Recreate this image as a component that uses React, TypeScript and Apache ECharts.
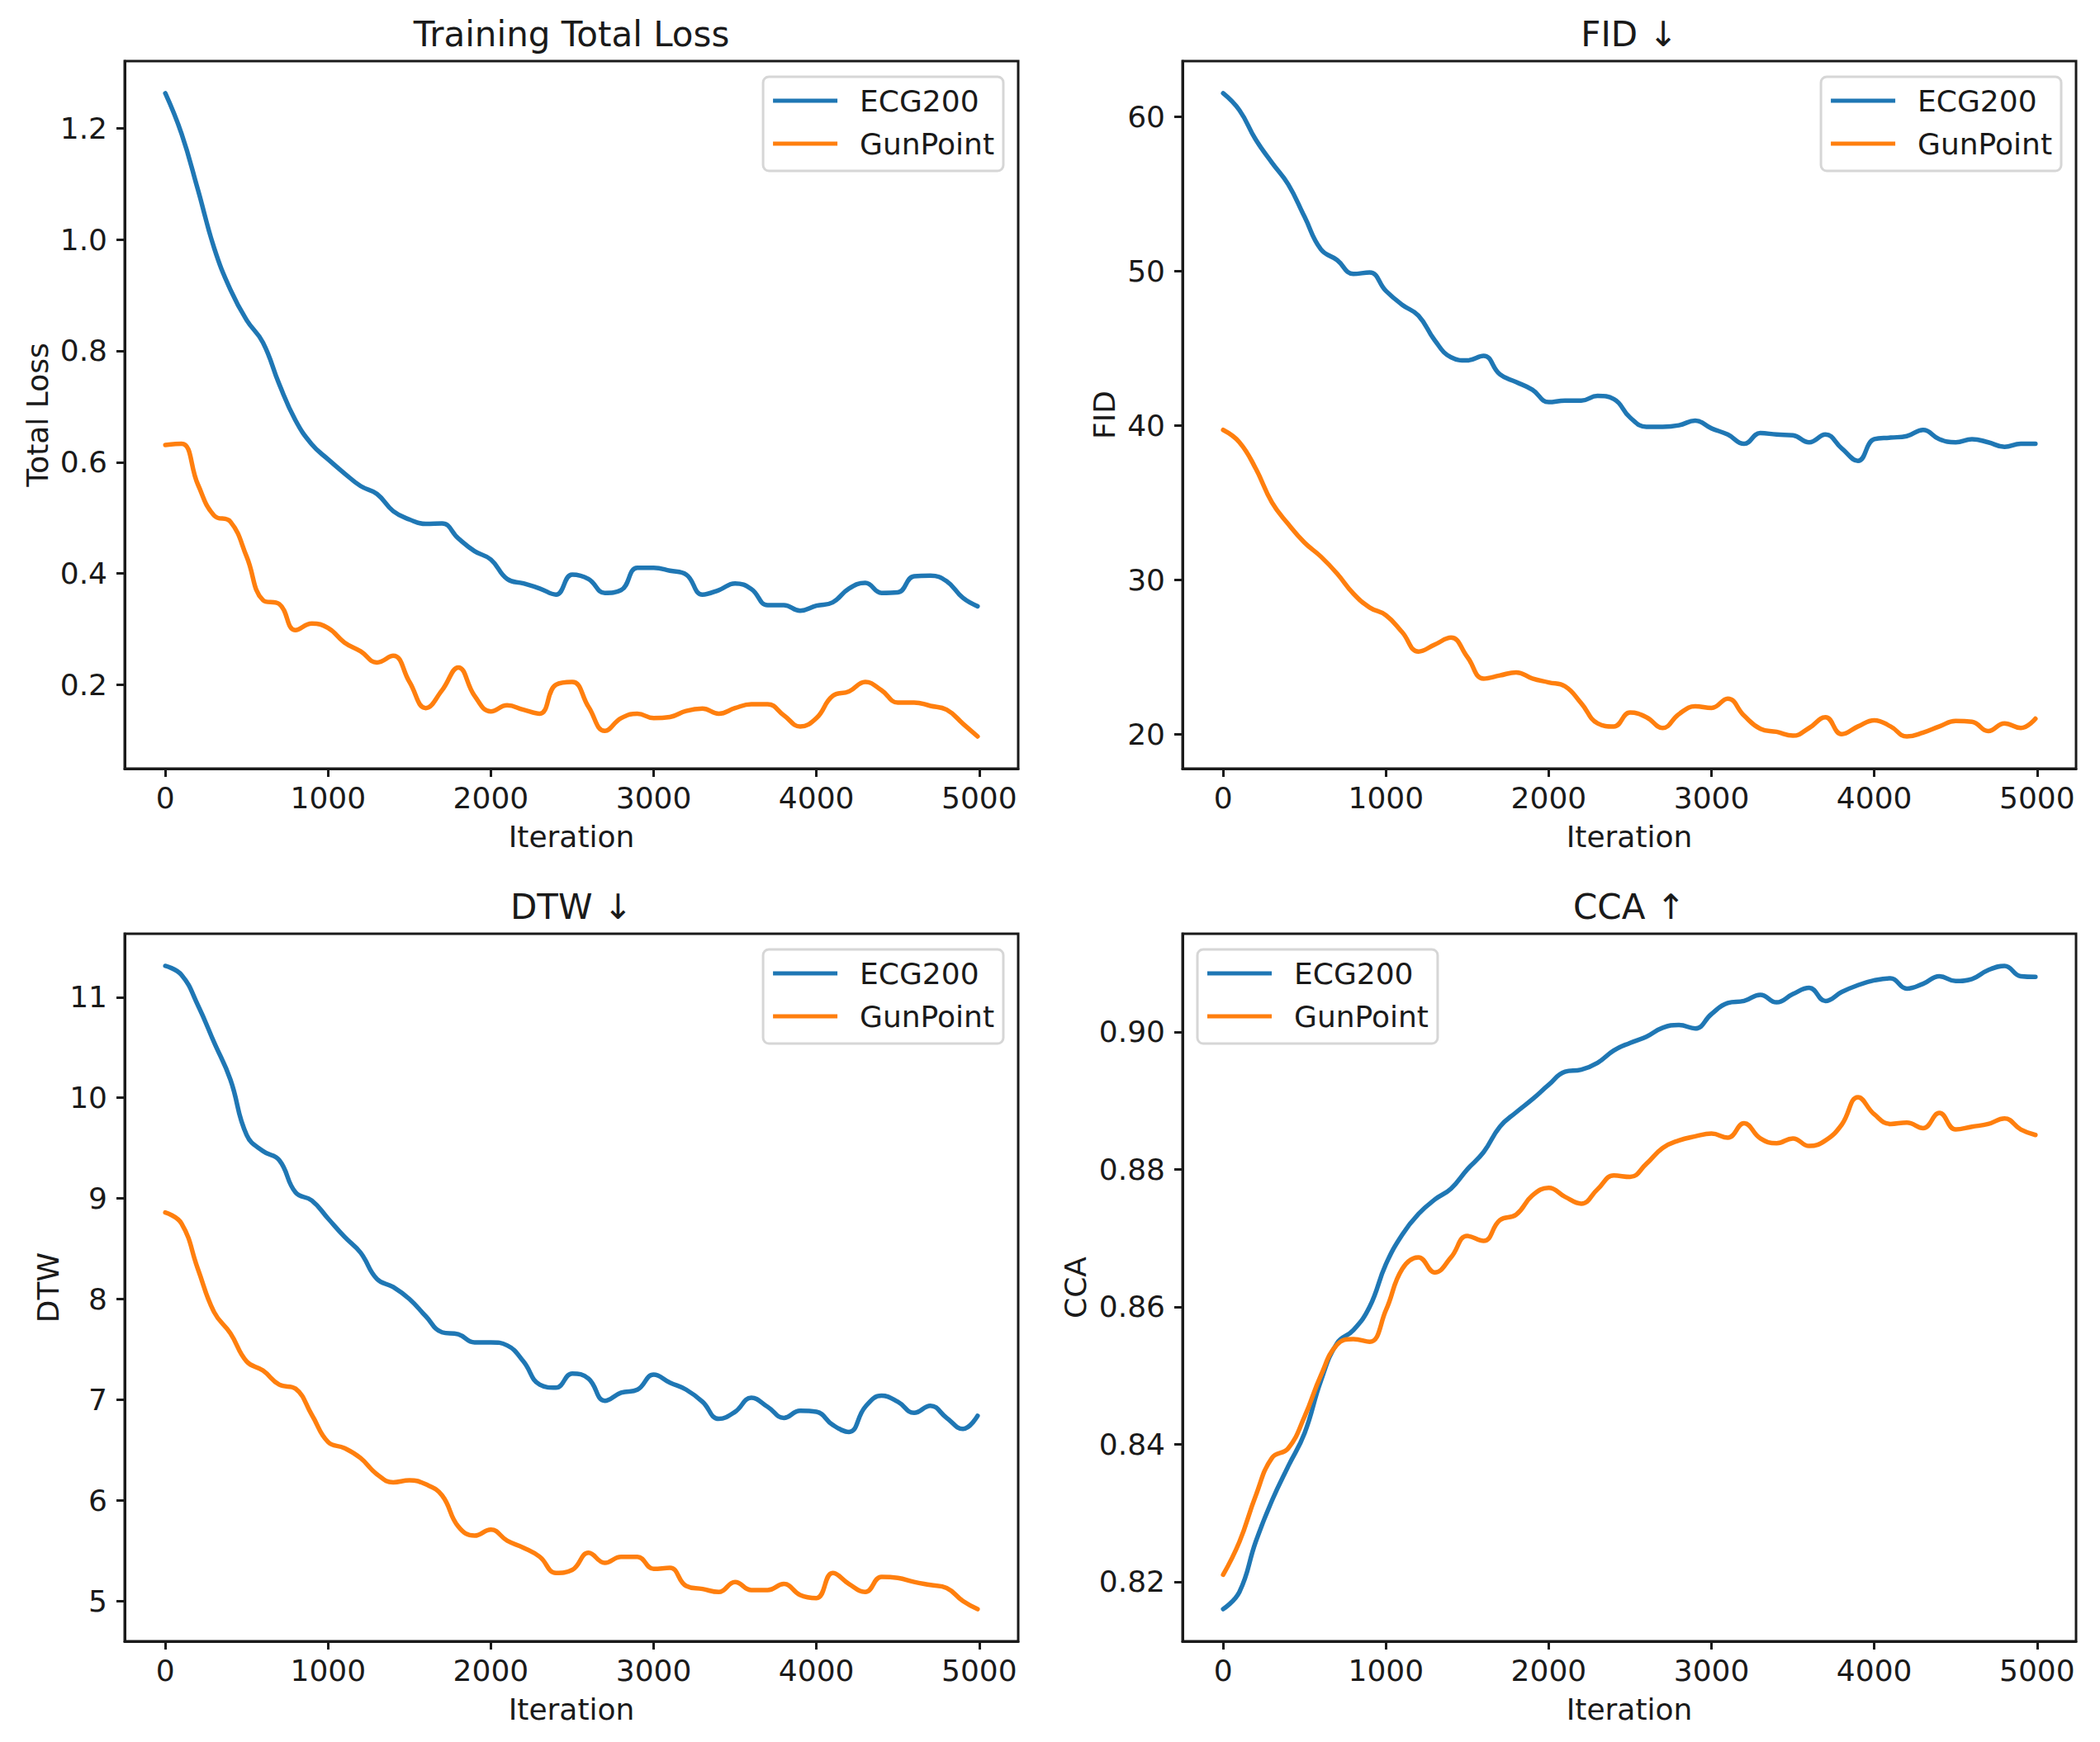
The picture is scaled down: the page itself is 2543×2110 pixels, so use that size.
import React, { useEffect, useRef } from "react";
import * as echarts from "echarts";

const ITER = [
  0, 100, 200, 300, 400, 500, 600, 700, 800, 900, 1000, 1100, 1200, 1300, 1400, 1500, 1600, 1700, 1800, 1900,
  2000, 2100, 2200, 2300, 2400, 2500, 2600, 2700, 2800, 2900, 3000, 3100, 3200, 3300, 3400, 3500, 3600, 3700, 3800, 3900,
  4000, 4100, 4200, 4300, 4400, 4500, 4600, 4700, 4800, 4900, 4990,
];

const LOSS_ECG = [
  1.263, 1.19, 1.09, 0.985, 0.91, 0.855, 0.815, 0.74, 0.675, 0.632, 0.605, 0.58, 0.557, 0.543, 0.512, 0.497, 0.489, 0.49, 0.463, 0.44,
  0.425, 0.39, 0.382, 0.373, 0.362, 0.398, 0.39, 0.365, 0.37, 0.41, 0.41, 0.405, 0.398, 0.362, 0.37, 0.382, 0.372, 0.343, 0.343, 0.333,
  0.342, 0.348, 0.373, 0.383, 0.365, 0.366, 0.395, 0.396, 0.386, 0.356, 0.341,
];
const LOSS_GUN = [
  0.631, 0.633, 0.56, 0.504, 0.493, 0.43, 0.352, 0.345, 0.298, 0.31, 0.302, 0.276, 0.26, 0.24, 0.252, 0.205, 0.158, 0.19, 0.231, 0.18,
  0.152, 0.163, 0.155, 0.148, 0.2, 0.205, 0.16, 0.117, 0.14, 0.148, 0.14, 0.142, 0.153, 0.157, 0.148, 0.158, 0.165, 0.165, 0.145, 0.125,
  0.14, 0.18, 0.188, 0.205, 0.19, 0.168, 0.168, 0.162, 0.155, 0.13, 0.107,
];
const FID_ECG = [
  61.5, 60.4, 58.5, 57.0, 55.6, 53.5, 51.4, 50.7, 49.8, 49.9, 48.7, 47.8, 47.1, 45.5, 44.4, 44.2, 44.5, 43.3, 42.8, 42.3,
  41.5, 41.6, 41.6, 41.9, 41.7, 40.5, 39.9, 39.9, 40.0, 40.3, 39.8, 39.4, 38.8, 39.5, 39.4, 39.35, 38.9, 39.4, 38.5, 37.7,
  39.1, 39.2, 39.3, 39.7, 39.1, 38.9, 39.1, 38.9, 38.6, 38.8, 38.8,
];
const FID_GUN = [
  39.7, 38.9, 37.2, 35.0, 33.6, 32.4, 31.5, 30.4, 29.1, 28.2, 27.7, 26.6, 25.35, 25.8, 26.25, 25.0, 23.6, 23.8, 24.0, 23.6,
  23.35, 23.1, 22.0, 20.7, 20.5, 21.4, 21.1, 20.4, 21.3, 21.8, 21.7, 22.3, 21.2, 20.35, 20.15, 19.9, 20.4, 21.1, 20.0, 20.5,
  20.9, 20.5, 19.85, 20.1, 20.5, 20.85, 20.8, 20.2, 20.7, 20.4, 21.0,
];
const DTW_ECG = [
  11.31, 11.22, 10.92, 10.55, 10.18, 9.63, 9.47, 9.38, 9.06, 8.98, 8.8, 8.62, 8.46, 8.2, 8.12, 8.0, 7.83, 7.67, 7.65, 7.57,
  7.57, 7.54, 7.38, 7.15, 7.12, 7.26, 7.21, 6.99, 7.07, 7.1, 7.25, 7.17, 7.1, 6.98, 6.81, 6.88, 7.02, 6.93, 6.82, 6.89,
  6.88, 6.75, 6.68, 6.93, 7.04, 6.98, 6.87, 6.94, 6.82, 6.71, 6.84,
];
const DTW_GUN = [
  8.86, 8.75, 8.3, 7.87, 7.66, 7.38, 7.29, 7.15, 7.11, 6.85, 6.58, 6.52, 6.42, 6.26, 6.18, 6.2, 6.16, 6.05, 5.74, 5.65,
  5.71, 5.6, 5.53, 5.44, 5.28, 5.31, 5.48, 5.38, 5.44, 5.44, 5.32, 5.33, 5.15, 5.12, 5.09, 5.19, 5.11, 5.11, 5.17, 5.06,
  5.03, 5.28, 5.17, 5.09, 5.24, 5.23, 5.19, 5.16, 5.13, 5.0, 4.92,
];
const CCA_ECG = [
  0.816, 0.8185, 0.8258, 0.8318, 0.8368, 0.8416, 0.8492, 0.8547, 0.8566, 0.86, 0.8662, 0.8705, 0.8735, 0.8756, 0.8772, 0.88, 0.8825, 0.8862, 0.8883, 0.8902,
  0.8923, 0.8942, 0.8945, 0.8955, 0.8973, 0.8984, 0.8993, 0.9006, 0.901, 0.9005, 0.9026, 0.9042, 0.9045, 0.9054, 0.9043, 0.9055, 0.9064, 0.9045, 0.9058, 0.9068,
  0.9075, 0.9078, 0.9063, 0.907, 0.9081, 0.9074, 0.9077, 0.909, 0.9096, 0.9081, 0.908,
];
const CCA_GUN = [
  0.821, 0.8258, 0.8325, 0.838, 0.8394, 0.844, 0.85, 0.8545, 0.8553, 0.8549, 0.8595, 0.8655, 0.8672, 0.865, 0.8672, 0.8703, 0.8696, 0.8726, 0.8734, 0.8762,
  0.8773, 0.876, 0.875, 0.8771, 0.8791, 0.8789, 0.8808, 0.8831, 0.8842, 0.8848, 0.8852, 0.8846, 0.8867, 0.8845, 0.8838, 0.8845, 0.8834, 0.8842, 0.8865, 0.8905,
  0.888, 0.8866, 0.8868, 0.886, 0.8882, 0.8858, 0.8862, 0.8866, 0.8874, 0.8858, 0.885,
];

const X_TICKS = [0, 1000, 2000, 3000, 4000, 5000];
const LOSS_TICKS = [0.2, 0.4, 0.6, 0.8, 1.0, 1.2];
const FID_TICKS = [20, 30, 40, 50, 60];
const DTW_TICKS = [5, 6, 7, 8, 9, 10, 11];
const CCA_TICKS = [0.82, 0.84, 0.86, 0.88, 0.9];

const SERIES_NAMES = ["ECG200", "GunPoint"];
const COLORS = ["#1f77b4", "#ff7f0e"];

const FONT = "'DejaVu Sans', sans-serif";
const INK = "#1a1a1a";
const W = 2543;
const H = 2110;
const GW = 1082;
const GH = 857;

function padRange(arrs: number[][]) {
  let lo = Infinity;
  let hi = -Infinity;
  arrs.forEach((a) => a.forEach((v) => { if (v < lo) lo = v; if (v > hi) hi = v; }));
  const r = hi - lo;
  return { min: lo - 0.05 * r, max: hi + 0.05 * r };
}

export default function App() {
  const ref = useRef<HTMLDivElement>(null);
  useEffect(() => {
    if (!ref.current) return;
    const chart = echarts.init(ref.current, null, { renderer: "svg" });

    const panels = [
      { title: "Training Total Loss", ylabel: "Total Loss", ecg: LOSS_ECG, gun: LOSS_GUN, ticks: LOSS_TICKS, digits: 1, left: 151, top: 74, legendSide: "right", nameGap: 88 },
      { title: "FID \u2193", ylabel: "FID", ecg: FID_ECG, gun: FID_GUN, ticks: FID_TICKS, digits: 0, left: 1432, top: 74, legendSide: "right", nameGap: 77 },
      { title: "DTW \u2193", ylabel: "DTW", ecg: DTW_ECG, gun: DTW_GUN, ticks: DTW_TICKS, digits: 0, left: 151, top: 1131, legendSide: "right", nameGap: 75 },
      { title: "CCA \u2191", ylabel: "CCA", ecg: CCA_ECG, gun: CCA_GUN, ticks: CCA_TICKS, digits: 2, left: 1432, top: 1131, legendSide: "left", nameGap: 112 },
    ];

    const xr = padRange([ITER]);
    const textBase = { fontFamily: FONT, color: INK, fontSize: 36 };

    const grid = panels.map((p) => ({
      left: p.left, top: p.top, width: GW, height: GH,
      show: true, borderColor: INK, borderWidth: 3, backgroundColor: "transparent", containLabel: false,
    }));

    const xAxis = panels.map((p, i) => ({
      type: "value", gridIndex: i, min: xr.min, max: xr.max,
      name: "Iteration", nameLocation: "middle", nameGap: 64,
      nameTextStyle: { ...textBase },
      axisLine: { show: true, onZero: false, lineStyle: { color: INK, width: 3 } },
      axisTick: { show: true, length: 10, lineStyle: { color: INK, width: 3 }, customValues: X_TICKS },
      axisLabel: { ...textBase, margin: 17, customValues: X_TICKS, formatter: (v: number) => String(Math.round(v)) },
      splitLine: { show: false },
    }));

    const yAxis = panels.map((p, i) => {
      const r = padRange([p.ecg, p.gun]);
      return {
        type: "value", gridIndex: i, min: r.min, max: r.max,
        name: p.ylabel, nameLocation: "middle", nameGap: p.nameGap, nameRotate: 90,
        nameTextStyle: { ...textBase },
        axisLine: { show: true, onZero: false, lineStyle: { color: INK, width: 3 } },
        axisTick: { show: true, length: 10, lineStyle: { color: INK, width: 3 }, customValues: p.ticks },
        axisLabel: { ...textBase, margin: 21, customValues: p.ticks, formatter: (v: number) => v.toFixed(p.digits) },
        splitLine: { show: false },
      };
    });

    const title = panels.map((p) => ({
      text: p.title, left: p.left + GW / 2, textAlign: "center", top: p.top - 54, padding: 0,
      textStyle: { fontFamily: FONT, color: INK, fontSize: 42, fontWeight: "normal" },
    }));

    const legend = panels.map((p) => {
      const pos: any = { top: p.top + 19 };
      if (p.legendSide === "right") pos.right = W - (p.left + GW) + 18;
      else pos.left = p.left + 18;
      return {
        ...pos,
        orient: "vertical",
        data: SERIES_NAMES,
        selectedMode: false,
        icon: "rect",
        itemWidth: 78,
        itemHeight: 5,
        itemGap: 12,
        padding: [9, 11, 13, 12],
        backgroundColor: "rgba(255,255,255,0.8)",
        borderColor: "#d6d6d6",
        borderWidth: 3,
        borderRadius: 7,
        textStyle: { fontFamily: FONT, color: INK, fontSize: 36, lineHeight: 40, padding: [0, 0, 0, 22] },
      };
    });

    const series: any[] = [];
    panels.forEach((p, i) => {
      [p.ecg, p.gun].forEach((vals, k) => {
        series.push({
          type: "line", name: SERIES_NAMES[k], xAxisIndex: i, yAxisIndex: i,
          data: ITER.map((x, j) => [x, vals[j]]),
          showSymbol: false, symbol: "none", smooth: 0.45,
          lineStyle: { width: 5.5, color: COLORS[k], cap: "round", join: "round" },
          itemStyle: { color: COLORS[k] },
          z: 2 + k,
        });
      });
    });

    chart.setOption({
      animation: false,
      backgroundColor: "#ffffff",
      textStyle: { fontFamily: FONT },
      title, grid, xAxis, yAxis, legend, series,
    });
    return () => chart.dispose();
  }, []);

  return (
    <div
      ref={ref}
      style={{ position: "absolute", left: 0, top: 0, width: W, height: H, background: "#fff" }}
    />
  );
}
